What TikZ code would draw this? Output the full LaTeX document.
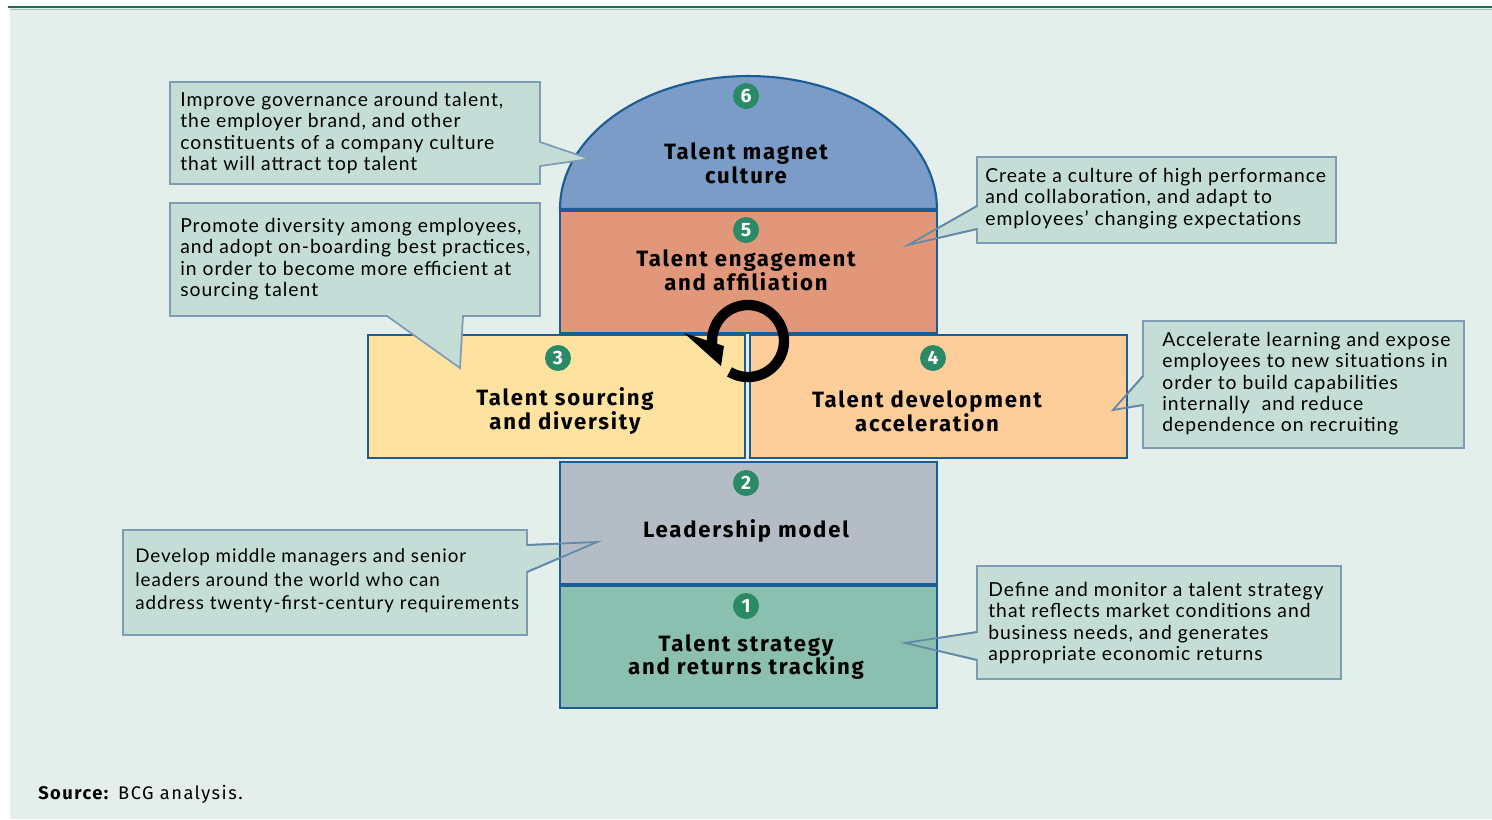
\documentclass[tikz,border=0pt]{standalone}
\usepackage{fontspec}
\setmainfont[LetterSpace=5]{Lato}
\newfontfamily\labfont[LetterSpace=8]{Fira Sans}
\definecolor{bgc}{HTML}{E4EEEA}
\definecolor{topline}{HTML}{1F6B4F}
\definecolor{domefill}{HTML}{7A9CC6}
\definecolor{boxline}{HTML}{1C5C96}
\definecolor{fivefill}{HTML}{E0977A}
\definecolor{threefill}{HTML}{FEE29F}
\definecolor{fourfill}{HTML}{FDCE9A}
\definecolor{twofill}{HTML}{B4BCC6}
\definecolor{onefill}{HTML}{8BBFB0}
\definecolor{callfill}{HTML}{C4DDD6}
\definecolor{callline}{HTML}{7E9DB2}
\definecolor{numfill}{HTML}{2A8A66}
\tikzset{
  stagebox/.style={draw=boxline, line width=1.2pt},
  calloutshape/.style={fill=callfill, draw=callline, line width=1pt, line join=miter},
  pointerline/.style={draw=callline!70!boxline, line width=1pt},
  calltext/.style={anchor=north west, align=left, inner sep=0pt, font=\fontsize{11pt}{12.1pt}\selectfont},
  stagelabel/.style={align=center, inner sep=0pt, font=\labfont\bfseries\fontsize{12.6pt}{13.6pt}\selectfont},
  numdot/.style={circle, fill=numfill, minimum size=0.52cm, inner sep=0pt, text=white, font=\labfont\bfseries\fontsize{11pt}{11pt}\selectfont}
}
\begin{document}
\begin{tikzpicture}[x=0.02cm, y=-0.02cm]
\useasboundingbox (0,0) rectangle (1492,819);
% background
\fill[white] (0,0) rectangle (1492,819);
\fill[bgc] (10,8) rectangle (1492,819);
\draw[topline, line width=1.3pt] (8,7) -- (1492,7);
\draw[topline!40, line width=0.8pt] (10,9.5) -- (1492,9.5);

% callouts below the stages
\path[calloutshape] (977,157) -- (1336,157) -- (1336,243) -- (977,243) -- (977,229) -- (908,245) -- (977,206) -- cycle;
\path[calloutshape] (1143,321) -- (1464,321) -- (1464,448) -- (1143,448) -- (1143,405) -- (1113,410) -- (1143,376) -- cycle;
\path[calloutshape] (123,530) -- (527,530) -- (527,545) -- (597,542) -- (527,572) -- (527,635) -- (123,635) -- cycle;
\path[calloutshape] (977,566) -- (1341,566) -- (1341,679) -- (977,679) -- (977,660) -- (905,643) -- (977,632) -- cycle;

% stages
\path[stagebox, fill=domefill] (560,209) arc[start angle=180, end angle=0, x radius=3.77cm, y radius=2.66cm] -- cycle;
\path[stagebox, fill=fivefill] (560,211) rectangle (937,333);
\path[stagebox, fill=threefill] (368,335) rectangle (745,458);
\path[stagebox, fill=fourfill] (750,335) rectangle (1127,458);
\path[stagebox, fill=twofill] (560,462) rectangle (937,584);
\path[stagebox, fill=onefill] (560,586) rectangle (937,708);

% pointer edges over the stages
\path[pointerline] (977,206) -- (908,245) -- (977,229);
\path[pointerline] (1143,376) -- (1113,410) -- (1143,405);
\path[pointerline] (527,545) -- (597,542) -- (527,572);
\path[pointerline] (977,632) -- (905,643) -- (977,660);

% callouts above the stages
\path[calloutshape] (170,82) -- (540,82) -- (540,142) -- (590,159) -- (540,166) -- (540,184) -- (170,184) -- cycle;
\path[calloutshape] (170,203) -- (540,203) -- (540,316) -- (463,316) -- (460,368) -- (387,316) -- (170,316) -- cycle;

% numbers
\node[numdot] (n6) at (746,96) {6};
\node[numdot] (n5) at (746,230) {5};
\node[numdot] (n3) at (558,358) {3};
\node[numdot] (n4) at (933,358) {4};
\node[numdot] (n2) at (746,483) {2};
\node[numdot] (n1) at (746,606) {1};

% stage labels
\node[stagelabel] (l6) at (746,163) {Talent magnet\\culture};
\node[stagelabel] (l5) at (746,270) {Talent engagement\\and affiliation};
\node[stagelabel] (l3) at (565,411) {Talent sourcing\\and diversity};
\node[stagelabel] (l4) at (927,411) {Talent development\\acceleration};
\node[stagelabel] (l2) at (746,531) {Leadership model};
\node[stagelabel] (l1) at (746,657) {Talent strategy\\and returns tracking};

% circular arrow
\draw[black, line width=5.9pt] (748,341) ++(-121:0.72cm) arc[start angle=-121, end angle=202, radius=0.72cm];
\fill[black] (684,333) -- (721,366) -- (724,346) -- cycle;

% callout texts
\node[calltext] (t6) at (180,92) {Improve governance around talent,\\the employer brand, and other\\constituents of a company culture\\that will attract top talent};
\node[calltext] (t5) at (985,168) {Create a culture of high performance\\and collaboration, and adapt to\\employees' changing expectations};
\node[calltext] (t3) at (180,218) {Promote diversity among employees,\\and adopt on-boarding best practices,\\in order to become more efficient at\\sourcing talent};
\node[calltext] (t4) at (1162,332) {Accelerate learning and expose\\employees to new situations in\\order to build capabilities\\internally~ and reduce\\dependence on recruiting};
\node[calltext, font=\fontsize{10.7pt}{13.6pt}\selectfont] (t2) at (135,548) {Develop middle managers and senior\\leaders around the world who can\\address twenty-first-century requirements};
\node[calltext] (t1) at (988,582) {Define and monitor a talent strategy\\that reflects market conditions and\\business needs, and generates\\appropriate economic returns};

% source
\node[anchor=base west, inner sep=0pt, font=\labfont\fontsize{10.4pt}{12pt}\selectfont] (src) at (38,799) {\textbf{Source:} BCG analysis.};
\end{tikzpicture}
\end{document}
